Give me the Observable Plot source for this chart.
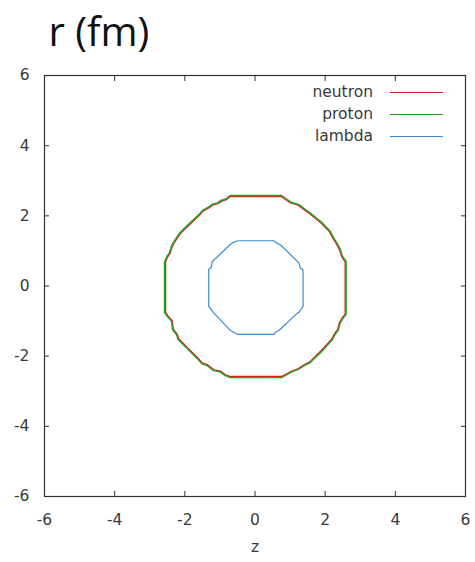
<!DOCTYPE html>
<html>
<head>
<meta charset="utf-8">
<script src="https://cdn.jsdelivr.net/npm/d3@7"></script>
<script src="https://cdn.jsdelivr.net/npm/@observablehq/plot@0.6"></script>
<style>
  html, body { margin: 0; padding: 0; background: #ffffff; }
</style>
</head>
<body>
<div id="chart"></div>
<script>
// ---- data (z, r in fm) ----
const neutron = [
  [0.75, 2.55], [-0.70, 2.55],
  [-0.80, 2.47], [-0.95, 2.42], [-1.05, 2.35], [-1.20, 2.31], [-1.28, 2.25], [-1.47, 2.14], [-1.56, 2.04],
  [-1.93, 1.69], [-2.12, 1.50], [-2.22, 1.36], [-2.31, 1.22], [-2.37, 1.10], [-2.42, 0.93], [-2.49, 0.83], [-2.55, 0.69],
  [-2.55, -0.75],
  [-2.48, -0.85], [-2.36, -0.99], [-2.33, -1.23], [-2.22, -1.37], [-2.17, -1.51], [-1.93, -1.75], [-1.65, -2.03],
  [-1.50, -2.19], [-1.36, -2.24], [-1.17, -2.39], [-0.98, -2.43], [-0.84, -2.53], [-0.70, -2.58],
  [0.75, -2.58],
  [0.89, -2.51], [1.03, -2.43], [1.22, -2.36], [1.41, -2.24], [1.55, -2.17], [1.89, -1.84], [2.19, -1.51],
  [2.26, -1.37], [2.36, -1.23], [2.41, -1.03], [2.50, -0.89], [2.57, -0.80],
  [2.57, 0.69],
  [2.47, 0.84], [2.41, 1.03], [2.31, 1.22], [2.22, 1.36], [2.12, 1.55], [1.89, 1.79], [1.55, 2.07],
  [1.41, 2.17], [1.22, 2.31], [1.03, 2.36], [0.89, 2.45]
];
const proton = [
  [0.76, 2.58], [-0.71, 2.58],
  [-0.82, 2.49], [-0.97, 2.44], [-1.07, 2.37], [-1.22, 2.33], [-1.30, 2.27], [-1.49, 2.16], [-1.58, 2.06],
  [-1.95, 1.71], [-2.14, 1.52], [-2.24, 1.38], [-2.33, 1.24], [-2.39, 1.12], [-2.44, 0.95], [-2.51, 0.85], [-2.58, 0.70],
  [-2.58, -0.76],
  [-2.50, -0.87], [-2.38, -1.01], [-2.35, -1.25], [-2.24, -1.39], [-2.19, -1.53], [-1.95, -1.77], [-1.67, -2.05],
  [-1.52, -2.21], [-1.38, -2.26], [-1.19, -2.41], [-1.00, -2.45], [-0.86, -2.55], [-0.71, -2.61],
  [0.76, -2.61],
  [0.91, -2.53], [1.05, -2.45], [1.24, -2.38], [1.43, -2.26], [1.57, -2.19], [1.91, -1.86], [2.21, -1.53],
  [2.28, -1.39], [2.38, -1.25], [2.43, -1.05], [2.52, -0.91], [2.60, -0.81],
  [2.60, 0.70],
  [2.49, 0.86], [2.43, 1.05], [2.33, 1.24], [2.24, 1.38], [2.14, 1.57], [1.91, 1.81], [1.57, 2.09],
  [1.43, 2.19], [1.24, 2.33], [1.05, 2.38], [0.91, 2.47]
];
const lambda = [
  [0.54, 1.29], [-0.49, 1.29], [-0.65, 1.23], [-0.72, 1.17], [-1.22, 0.69], [-1.25, 0.53], [-1.32, 0.48],
  [-1.32, -0.59], [-1.27, -0.64], [-1.19, -0.75], [-0.70, -1.27], [-0.60, -1.32], [-0.49, -1.38],
  [0.54, -1.38], [0.58, -1.32], [0.68, -1.27], [1.20, -0.78], [1.25, -0.75], [1.37, -0.59],
  [1.37, 0.46], [1.30, 0.50], [1.25, 0.66], [0.73, 1.17], [0.61, 1.23]
];
const seriesNames = ["neutron", "proton", "lambda"];
const seriesColors = ["#d42020", "#1fa51f", "#3a8ad6"];
const ticks = [-6, -4, -2, 0, 2, 4, 6];
const titleText = "r (fm)";
const xLabel = "z";

const FONT = "DejaVu Sans, sans-serif";
const TXT = "#3a3a3a";

function legend(index, scales, values, dimensions) {
  const right = dimensions.width - dimensions.marginRight;
  const top = dimensions.marginTop;
  const g = d3.create("svg:g")
    .attr("font-family", FONT)
    .attr("font-size", 15.5)
    .attr("fill", TXT);
  seriesNames.forEach((name, i) => {
    const y = top + 17 + i * 22;
    g.append("text")
      .attr("x", right - 92).attr("y", y).attr("dy", "0.32em")
      .attr("text-anchor", "end").text(name);
    g.append("line")
      .attr("x1", right - 75).attr("x2", right - 22)
      .attr("y1", y + 0.5).attr("y2", y + 0.5)
      .attr("stroke", seriesColors[i]).attr("stroke-width", 1.2);
  });
  return g.node();
}

const blank = () => "";
const plain = d => String(d);
const chart = Plot.plot({
  width: 475,
  height: 562,
  marginLeft: 44,
  marginRight: 10,
  marginTop: 75,
  marginBottom: 66,
  style: { fontFamily: FONT, fontSize: "15.5px", color: TXT, background: "#ffffff" },
  x: { domain: [-6, 6], label: null },
  y: { domain: [-6, 6], label: null },
  marks: [
    // inward ticks on all four sides
    Plot.axisX(ticks, { anchor: "bottom", tickSize: 5, dy: -5, tickFormat: blank, stroke: "#333", label: null }),
    Plot.axisX(ticks, { anchor: "top", tickSize: 5, dy: 5, tickFormat: blank, stroke: "#333", label: null }),
    Plot.axisY(ticks, { anchor: "left", tickSize: 5, dx: 5, tickFormat: blank, stroke: "#333", label: null }),
    Plot.axisY(ticks, { anchor: "right", tickSize: 5, dx: -5, tickFormat: blank, stroke: "#333", label: null }),
    // tick labels
    Plot.axisX(ticks, { anchor: "bottom", tickSize: 0, tickPadding: 17, tickFormat: plain, label: null, fill: TXT }),
    Plot.axisY(ticks, { anchor: "left", tickSize: 0, tickPadding: 15, tickFormat: plain, label: null, fill: TXT }),
    Plot.frame({ stroke: "#333", strokeWidth: 1.2 }),
    // contours
    Plot.line(neutron, { x: d => d[0], y: d => d[1], stroke: seriesColors[0], strokeWidth: 1.3, curve: "linear-closed" }),
    Plot.line(proton, { x: d => d[0], y: d => d[1], stroke: seriesColors[1], strokeWidth: 1.3, curve: "linear-closed" }),
    Plot.line(lambda, { x: d => d[0], y: d => d[1], stroke: seriesColors[2], strokeWidth: 1.2, curve: "linear-closed" }),
    // texts
    Plot.text([xLabel], { text: d => d, frameAnchor: "bottom", dy: 55, fill: TXT, fontSize: 15.5 }),
    Plot.text([titleText], {
      text: d => d, frameAnchor: "top-left", textAnchor: "start", lineAnchor: "bottom",
      dx: 4, dy: -30, fill: "#111", fontSize: 40, fontFamily: "Open Sans, sans-serif"
    }),
    legend
  ]
});
document.getElementById("chart").appendChild(chart);
</script>
</body>
</html>
